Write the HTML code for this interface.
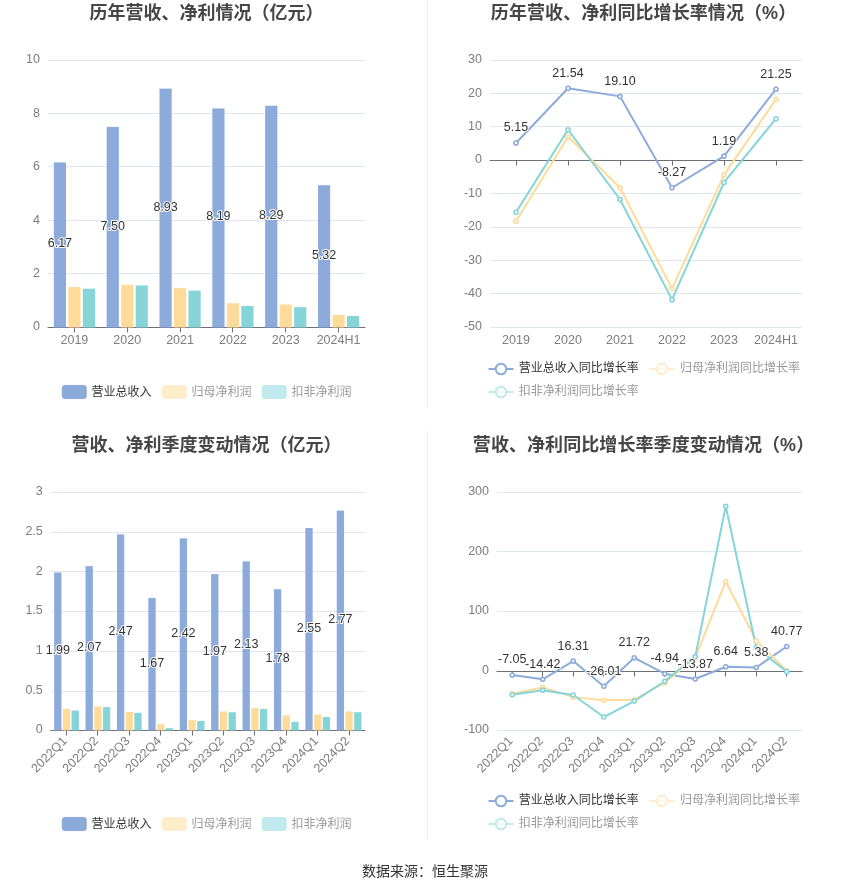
<!DOCTYPE html>
<html lang="zh"><head><meta charset="utf-8"><title>chart</title>
<style>
html,body{margin:0;padding:0;background:#fff}
svg{display:block;will-change:transform}
text{font-family:"Liberation Sans",sans-serif;font-size:12.5px}
.dl{fill:#333;stroke:#fff;stroke-width:2px;paint-order:stroke fill;stroke-linejoin:round}
text.ttl{font-family:"Liberation Sans","Noto Sans CJK SC",sans-serif;font-size:18px;font-weight:bold;fill:#464646}
text.lg{font-family:"Liberation Sans","Noto Sans CJK SC",sans-serif;font-size:12px}
text.src{font-family:"Liberation Sans","Noto Sans CJK SC",sans-serif;font-size:14px;fill:#333}
</style></head><body>
<svg width="850" height="891" viewBox="0 0 850 891" shape-rendering="auto">
<rect width="850" height="891" fill="#fff"/>
<text class="ttl" x="89.5" y="19.3" textLength="234">历年营收、净利情况（亿元）</text>
<path d="M48 60.5H365" stroke="#E0E6F1"/>
<path d="M48 113.5H365" stroke="#E0E6F1"/>
<path d="M48 166.5H365" stroke="#E0E6F1"/>
<path d="M48 220.5H365" stroke="#E0E6F1"/>
<path d="M48 273.5H365" stroke="#E0E6F1"/>
<text x="40" y="63.3" text-anchor="end" fill="#7c7c82">10</text>
<text x="40" y="116.7" text-anchor="end" fill="#7c7c82">8</text>
<text x="40" y="170.1" text-anchor="end" fill="#7c7c82">6</text>
<text x="40" y="223.5" text-anchor="end" fill="#7c7c82">4</text>
<text x="40" y="276.9" text-anchor="end" fill="#7c7c82">2</text>
<text x="40" y="330.3" text-anchor="end" fill="#7c7c82">0</text>
<path d="M47.5 327.5H365.5" stroke="#6E7079"/>
<rect x="53.82" y="162.45" width="12.2" height="165.05" fill="#8CABDB"/>
<rect x="68.32" y="287.11" width="12.2" height="40.39" fill="#FFDB9A"/>
<rect x="82.82" y="288.71" width="12.2" height="38.79" fill="#85D4D8"/>
<rect x="106.65" y="126.88" width="12.2" height="200.62" fill="#8CABDB"/>
<rect x="121.15" y="284.7" width="12.2" height="42.8" fill="#FFDB9A"/>
<rect x="135.65" y="285.5" width="12.2" height="42" fill="#85D4D8"/>
<rect x="159.48" y="88.62" width="12.2" height="238.88" fill="#8CABDB"/>
<rect x="173.98" y="287.91" width="12.2" height="39.59" fill="#FFDB9A"/>
<rect x="188.48" y="290.58" width="12.2" height="36.92" fill="#85D4D8"/>
<rect x="212.32" y="108.42" width="12.2" height="219.08" fill="#8CABDB"/>
<rect x="226.82" y="303.16" width="12.2" height="24.34" fill="#FFDB9A"/>
<rect x="241.32" y="305.97" width="12.2" height="21.53" fill="#85D4D8"/>
<rect x="265.15" y="105.74" width="12.2" height="221.76" fill="#8CABDB"/>
<rect x="279.65" y="304.5" width="12.2" height="23" fill="#FFDB9A"/>
<rect x="294.15" y="307.17" width="12.2" height="20.33" fill="#85D4D8"/>
<rect x="317.98" y="185.19" width="12.2" height="142.31" fill="#8CABDB"/>
<rect x="332.48" y="315.06" width="12.2" height="12.44" fill="#FFDB9A"/>
<rect x="346.98" y="316" width="12.2" height="11.5" fill="#85D4D8"/>
<path d="M74.5 327.5v5" stroke="#6E7079"/>
<text x="74.42" y="344" text-anchor="middle" fill="#7c7c82">2019</text>
<path d="M127.5 327.5v5" stroke="#6E7079"/>
<text x="127.25" y="344" text-anchor="middle" fill="#7c7c82">2020</text>
<path d="M180.5 327.5v5" stroke="#6E7079"/>
<text x="180.08" y="344" text-anchor="middle" fill="#7c7c82">2021</text>
<path d="M232.5 327.5v5" stroke="#6E7079"/>
<text x="232.92" y="344" text-anchor="middle" fill="#7c7c82">2022</text>
<path d="M285.5 327.5v5" stroke="#6E7079"/>
<text x="285.75" y="344" text-anchor="middle" fill="#7c7c82">2023</text>
<path d="M338.5 327.5v5" stroke="#6E7079"/>
<text x="338.58" y="344" text-anchor="middle" fill="#7c7c82">2024H1</text>
<text class="dl" x="59.92" y="247.48" text-anchor="middle">6.17</text>
<text class="dl" x="112.75" y="229.69" text-anchor="middle">7.50</text>
<text class="dl" x="165.58" y="210.56" text-anchor="middle">8.93</text>
<text class="dl" x="218.42" y="220.46" text-anchor="middle">8.19</text>
<text class="dl" x="271.25" y="219.12" text-anchor="middle">8.29</text>
<text class="dl" x="324.08" y="258.85" text-anchor="middle">5.32</text>
<rect x="61.8" y="385" width="25" height="14" rx="3.5" fill="#8CABDB"/>
<text class="lg" x="91.5" y="395.5" fill="#333" textLength="60">营业总收入</text>
<rect x="161.8" y="385" width="25" height="14" rx="3.5" fill="#FFEDCC"/>
<text class="lg" x="191.5" y="395.5" fill="#999" textLength="60">归母净利润</text>
<rect x="261.8" y="385" width="25" height="14" rx="3.5" fill="#C2E9EB"/>
<text class="lg" x="291.5" y="395.5" fill="#999" textLength="60">扣非净利润</text>
<text class="ttl" x="490.83" y="19.3" textLength="305.33">历年营收、净利同比增长率情况（%）</text>
<path d="M490 60.5H802" stroke="#E0E6F1"/>
<path d="M490 93.5H802" stroke="#E0E6F1"/>
<path d="M490 126.5H802" stroke="#E0E6F1"/>
<path d="M490 193.5H802" stroke="#E0E6F1"/>
<path d="M490 227.5H802" stroke="#E0E6F1"/>
<path d="M490 260.5H802" stroke="#E0E6F1"/>
<path d="M490 293.5H802" stroke="#E0E6F1"/>
<path d="M490 327.5H802" stroke="#E0E6F1"/>
<text x="482" y="63.3" text-anchor="end" fill="#7c7c82">30</text>
<text x="482" y="96.67" text-anchor="end" fill="#7c7c82">20</text>
<text x="482" y="130.05" text-anchor="end" fill="#7c7c82">10</text>
<text x="482" y="163.43" text-anchor="end" fill="#7c7c82">0</text>
<text x="482" y="196.8" text-anchor="end" fill="#7c7c82">-10</text>
<text x="482" y="230.18" text-anchor="end" fill="#7c7c82">-20</text>
<text x="482" y="263.55" text-anchor="end" fill="#7c7c82">-30</text>
<text x="482" y="296.93" text-anchor="end" fill="#7c7c82">-40</text>
<text x="482" y="330.3" text-anchor="end" fill="#7c7c82">-50</text>
<path d="M489.5 160.5H802.5" stroke="#6E7079"/>
<path d="M516.5 160.5v5" stroke="#6E7079"/>
<text x="516" y="344" text-anchor="middle" fill="#7c7c82">2019</text>
<path d="M568.5 160.5v5" stroke="#6E7079"/>
<text x="568" y="344" text-anchor="middle" fill="#7c7c82">2020</text>
<path d="M620.5 160.5v5" stroke="#6E7079"/>
<text x="620" y="344" text-anchor="middle" fill="#7c7c82">2021</text>
<path d="M672.5 160.5v5" stroke="#6E7079"/>
<text x="672" y="344" text-anchor="middle" fill="#7c7c82">2022</text>
<path d="M724.5 160.5v5" stroke="#6E7079"/>
<text x="724" y="344" text-anchor="middle" fill="#7c7c82">2023</text>
<path d="M776.5 160.5v5" stroke="#6E7079"/>
<text x="776" y="344" text-anchor="middle" fill="#7c7c82">2024H1</text>
<path d="M516 142.94L568 88.24L620 96.38L672 187.73L724 156.15L776 89.2" fill="none" stroke="#8CABDB" stroke-width="2" stroke-linejoin="bevel"/>
<path d="M516 221.2L568 136.76L620 187.83L672 288.62L724 174.81L776 99.38" fill="none" stroke="#FFDB9A" stroke-width="2" stroke-linejoin="bevel"/>
<path d="M516 212.19L568 129.75L620 199.51L672 299.63L724 182.49L776 118.74" fill="none" stroke="#85D4D8" stroke-width="2" stroke-linejoin="bevel"/>
<circle cx="516" cy="142.94" r="2" fill="#fff" stroke="#8CABDB" stroke-width="1.6"/>
<circle cx="568" cy="88.24" r="2" fill="#fff" stroke="#8CABDB" stroke-width="1.6"/>
<circle cx="620" cy="96.38" r="2" fill="#fff" stroke="#8CABDB" stroke-width="1.6"/>
<circle cx="672" cy="187.73" r="2" fill="#fff" stroke="#8CABDB" stroke-width="1.6"/>
<circle cx="724" cy="156.15" r="2" fill="#fff" stroke="#8CABDB" stroke-width="1.6"/>
<circle cx="776" cy="89.2" r="2" fill="#fff" stroke="#8CABDB" stroke-width="1.6"/>
<circle cx="516" cy="221.2" r="2" fill="#fff" stroke="#FFDB9A" stroke-width="1.6"/>
<circle cx="568" cy="136.76" r="2" fill="#fff" stroke="#FFDB9A" stroke-width="1.6"/>
<circle cx="620" cy="187.83" r="2" fill="#fff" stroke="#FFDB9A" stroke-width="1.6"/>
<circle cx="672" cy="288.62" r="2" fill="#fff" stroke="#FFDB9A" stroke-width="1.6"/>
<circle cx="724" cy="174.81" r="2" fill="#fff" stroke="#FFDB9A" stroke-width="1.6"/>
<circle cx="776" cy="99.38" r="2" fill="#fff" stroke="#FFDB9A" stroke-width="1.6"/>
<circle cx="516" cy="212.19" r="2" fill="#fff" stroke="#85D4D8" stroke-width="1.6"/>
<circle cx="568" cy="129.75" r="2" fill="#fff" stroke="#85D4D8" stroke-width="1.6"/>
<circle cx="620" cy="199.51" r="2" fill="#fff" stroke="#85D4D8" stroke-width="1.6"/>
<circle cx="672" cy="299.63" r="2" fill="#fff" stroke="#85D4D8" stroke-width="1.6"/>
<circle cx="724" cy="182.49" r="2" fill="#fff" stroke="#85D4D8" stroke-width="1.6"/>
<circle cx="776" cy="118.74" r="2" fill="#fff" stroke="#85D4D8" stroke-width="1.6"/>
<text class="dl" x="516" y="131.44" text-anchor="middle">5.15</text>
<text class="dl" x="568" y="76.74" text-anchor="middle">21.54</text>
<text class="dl" x="620" y="84.88" text-anchor="middle">19.10</text>
<text class="dl" x="672" y="176.23" text-anchor="middle">-8.27</text>
<text class="dl" x="724" y="144.65" text-anchor="middle">1.19</text>
<text class="dl" x="776" y="77.7" text-anchor="middle">21.25</text>
<path d="M488.5 369h25" stroke="#8CABDB" stroke-width="2"/>
<circle cx="501" cy="369" r="5.3" fill="#fff" stroke="#8CABDB" stroke-width="2"/>
<text class="lg" x="518.7" y="372.3" fill="#333" textLength="120">营业总收入同比增长率</text>
<path d="M649.7 369h25" stroke="#FFEDCC" stroke-width="2"/>
<circle cx="662.2" cy="369" r="5.3" fill="#fff" stroke="#FFEDCC" stroke-width="2"/>
<path d="M657.7 369h9" stroke="#FFEDCC" stroke-width="2" opacity="0.35"/>
<text class="lg" x="679.9" y="372.3" fill="#999" textLength="120">归母净利润同比增长率</text>
<path d="M488.5 392h25" stroke="#C2E9EB" stroke-width="2"/>
<circle cx="501" cy="392" r="5.3" fill="#fff" stroke="#C2E9EB" stroke-width="2"/>
<path d="M496.5 392h9" stroke="#C2E9EB" stroke-width="2" opacity="0.35"/>
<text class="lg" x="518.7" y="395.3" fill="#999" textLength="120">扣非净利润同比增长率</text>
<text class="ttl" x="71.5" y="451.4" textLength="270">营收、净利季度变动情况（亿元）</text>
<path d="M50.8 492.5H364.8" stroke="#E0E6F1"/>
<path d="M50.8 532.5H364.8" stroke="#E0E6F1"/>
<path d="M50.8 571.5H364.8" stroke="#E0E6F1"/>
<path d="M50.8 611.5H364.8" stroke="#E0E6F1"/>
<path d="M50.8 651.5H364.8" stroke="#E0E6F1"/>
<path d="M50.8 691.5H364.8" stroke="#E0E6F1"/>
<text x="42.8" y="495.1" text-anchor="end" fill="#7c7c82">3</text>
<text x="42.8" y="534.8" text-anchor="end" fill="#7c7c82">2.5</text>
<text x="42.8" y="574.5" text-anchor="end" fill="#7c7c82">2</text>
<text x="42.8" y="614.2" text-anchor="end" fill="#7c7c82">1.5</text>
<text x="42.8" y="653.9" text-anchor="end" fill="#7c7c82">1</text>
<text x="42.8" y="693.6" text-anchor="end" fill="#7c7c82">0.5</text>
<text x="42.8" y="733.3" text-anchor="end" fill="#7c7c82">0</text>
<path d="M50.3 730.5H365.3" stroke="#6E7079"/>
<rect x="54.15" y="572.49" width="7.3" height="158.01" fill="#8CABDB"/>
<rect x="62.85" y="708.82" width="7.3" height="21.68" fill="#FFDB9A"/>
<rect x="71.55" y="710.49" width="7.3" height="20.01" fill="#85D4D8"/>
<rect x="85.55" y="566.14" width="7.3" height="164.36" fill="#8CABDB"/>
<rect x="94.25" y="706.52" width="7.3" height="23.98" fill="#FFDB9A"/>
<rect x="102.95" y="707.08" width="7.3" height="23.42" fill="#85D4D8"/>
<rect x="116.95" y="534.38" width="7.3" height="196.12" fill="#8CABDB"/>
<rect x="125.65" y="712" width="7.3" height="18.5" fill="#FFDB9A"/>
<rect x="134.35" y="712.87" width="7.3" height="17.63" fill="#85D4D8"/>
<rect x="148.35" y="597.9" width="7.3" height="132.6" fill="#8CABDB"/>
<rect x="157.05" y="724.15" width="7.3" height="6.35" fill="#FFDB9A"/>
<rect x="165.75" y="728.12" width="7.3" height="2.38" fill="#85D4D8"/>
<rect x="179.75" y="538.35" width="7.3" height="192.15" fill="#8CABDB"/>
<rect x="188.45" y="720.18" width="7.3" height="10.32" fill="#FFDB9A"/>
<rect x="197.15" y="720.97" width="7.3" height="9.53" fill="#85D4D8"/>
<rect x="211.15" y="574.08" width="7.3" height="156.42" fill="#8CABDB"/>
<rect x="219.85" y="711.44" width="7.3" height="19.06" fill="#FFDB9A"/>
<rect x="228.55" y="712.24" width="7.3" height="18.26" fill="#85D4D8"/>
<rect x="242.55" y="561.38" width="7.3" height="169.12" fill="#8CABDB"/>
<rect x="251.25" y="708.19" width="7.3" height="22.31" fill="#FFDB9A"/>
<rect x="259.95" y="709.06" width="7.3" height="21.44" fill="#85D4D8"/>
<rect x="273.95" y="589.17" width="7.3" height="141.33" fill="#8CABDB"/>
<rect x="282.65" y="715.41" width="7.3" height="15.09" fill="#FFDB9A"/>
<rect x="291.35" y="721.77" width="7.3" height="8.73" fill="#85D4D8"/>
<rect x="305.35" y="528.03" width="7.3" height="202.47" fill="#8CABDB"/>
<rect x="314.05" y="714.62" width="7.3" height="15.88" fill="#FFDB9A"/>
<rect x="322.75" y="717" width="7.3" height="13.5" fill="#85D4D8"/>
<rect x="336.75" y="510.56" width="7.3" height="219.94" fill="#8CABDB"/>
<rect x="345.45" y="711.44" width="7.3" height="19.06" fill="#FFDB9A"/>
<rect x="354.15" y="712.24" width="7.3" height="18.26" fill="#85D4D8"/>
<path d="M66.5 730.5v5" stroke="#6E7079"/>
<text transform="translate(67.6 741.7) rotate(-45)" font-size="12.5" text-anchor="end" fill="#7c7c82">2022Q1</text>
<path d="M97.5 730.5v5" stroke="#6E7079"/>
<text transform="translate(99 741.7) rotate(-45)" font-size="12.5" text-anchor="end" fill="#7c7c82">2022Q2</text>
<path d="M129.5 730.5v5" stroke="#6E7079"/>
<text transform="translate(130.4 741.7) rotate(-45)" font-size="12.5" text-anchor="end" fill="#7c7c82">2022Q3</text>
<path d="M160.5 730.5v5" stroke="#6E7079"/>
<text transform="translate(161.8 741.7) rotate(-45)" font-size="12.5" text-anchor="end" fill="#7c7c82">2022Q4</text>
<path d="M192.5 730.5v5" stroke="#6E7079"/>
<text transform="translate(193.2 741.7) rotate(-45)" font-size="12.5" text-anchor="end" fill="#7c7c82">2023Q1</text>
<path d="M223.5 730.5v5" stroke="#6E7079"/>
<text transform="translate(224.6 741.7) rotate(-45)" font-size="12.5" text-anchor="end" fill="#7c7c82">2023Q2</text>
<path d="M254.5 730.5v5" stroke="#6E7079"/>
<text transform="translate(256 741.7) rotate(-45)" font-size="12.5" text-anchor="end" fill="#7c7c82">2023Q3</text>
<path d="M286.5 730.5v5" stroke="#6E7079"/>
<text transform="translate(287.4 741.7) rotate(-45)" font-size="12.5" text-anchor="end" fill="#7c7c82">2023Q4</text>
<path d="M317.5 730.5v5" stroke="#6E7079"/>
<text transform="translate(318.8 741.7) rotate(-45)" font-size="12.5" text-anchor="end" fill="#7c7c82">2024Q1</text>
<path d="M349.5 730.5v5" stroke="#6E7079"/>
<text transform="translate(350.2 741.7) rotate(-45)" font-size="12.5" text-anchor="end" fill="#7c7c82">2024Q2</text>
<text class="dl" x="57.8" y="654" text-anchor="middle">1.99</text>
<text class="dl" x="89.2" y="650.82" text-anchor="middle">2.07</text>
<text class="dl" x="120.6" y="634.94" text-anchor="middle">2.47</text>
<text class="dl" x="152" y="666.7" text-anchor="middle">1.67</text>
<text class="dl" x="183.4" y="636.93" text-anchor="middle">2.42</text>
<text class="dl" x="214.8" y="654.79" text-anchor="middle">1.97</text>
<text class="dl" x="246.2" y="648.44" text-anchor="middle">2.13</text>
<text class="dl" x="277.6" y="662.33" text-anchor="middle">1.78</text>
<text class="dl" x="309" y="631.76" text-anchor="middle">2.55</text>
<text class="dl" x="340.4" y="623.03" text-anchor="middle">2.77</text>
<rect x="61.8" y="817" width="25" height="14" rx="3.5" fill="#8CABDB"/>
<text class="lg" x="91.5" y="827.5" fill="#333" textLength="60">营业总收入</text>
<rect x="161.8" y="817" width="25" height="14" rx="3.5" fill="#FFEDCC"/>
<text class="lg" x="191.5" y="827.5" fill="#999" textLength="60">归母净利润</text>
<rect x="261.8" y="817" width="25" height="14" rx="3.5" fill="#C2E9EB"/>
<text class="lg" x="291.5" y="827.5" fill="#999" textLength="60">扣非净利润</text>
<text class="ttl" x="472.83" y="451.4" textLength="341.33">营收、净利同比增长率季度变动情况（%）</text>
<path d="M497 492.5H802" stroke="#E0E6F1"/>
<path d="M497 551.5H802" stroke="#E0E6F1"/>
<path d="M497 611.5H802" stroke="#E0E6F1"/>
<path d="M497 730.5H802" stroke="#E0E6F1"/>
<text x="489" y="495.2" text-anchor="end" fill="#7c7c82">300</text>
<text x="489" y="554.75" text-anchor="end" fill="#7c7c82">200</text>
<text x="489" y="614.3" text-anchor="end" fill="#7c7c82">100</text>
<text x="489" y="673.85" text-anchor="end" fill="#7c7c82">0</text>
<text x="489" y="733.4" text-anchor="end" fill="#7c7c82">-100</text>
<path d="M496.5 671.5H802.5" stroke="#6E7079"/>
<path d="M512.5 671.5v5" stroke="#6E7079"/>
<text transform="translate(513.35 741.7) rotate(-45)" font-size="12.5" text-anchor="end" fill="#7c7c82">2022Q1</text>
<path d="M542.5 671.5v5" stroke="#6E7079"/>
<text transform="translate(543.85 741.7) rotate(-45)" font-size="12.5" text-anchor="end" fill="#7c7c82">2022Q2</text>
<path d="M573.5 671.5v5" stroke="#6E7079"/>
<text transform="translate(574.35 741.7) rotate(-45)" font-size="12.5" text-anchor="end" fill="#7c7c82">2022Q3</text>
<path d="M603.5 671.5v5" stroke="#6E7079"/>
<text transform="translate(604.85 741.7) rotate(-45)" font-size="12.5" text-anchor="end" fill="#7c7c82">2022Q4</text>
<path d="M634.5 671.5v5" stroke="#6E7079"/>
<text transform="translate(635.35 741.7) rotate(-45)" font-size="12.5" text-anchor="end" fill="#7c7c82">2023Q1</text>
<path d="M664.5 671.5v5" stroke="#6E7079"/>
<text transform="translate(665.85 741.7) rotate(-45)" font-size="12.5" text-anchor="end" fill="#7c7c82">2023Q2</text>
<path d="M695.5 671.5v5" stroke="#6E7079"/>
<text transform="translate(696.35 741.7) rotate(-45)" font-size="12.5" text-anchor="end" fill="#7c7c82">2023Q3</text>
<path d="M725.5 671.5v5" stroke="#6E7079"/>
<text transform="translate(726.85 741.7) rotate(-45)" font-size="12.5" text-anchor="end" fill="#7c7c82">2023Q4</text>
<path d="M756.5 671.5v5" stroke="#6E7079"/>
<text transform="translate(757.35 741.7) rotate(-45)" font-size="12.5" text-anchor="end" fill="#7c7c82">2024Q1</text>
<path d="M786.5 671.5v5" stroke="#6E7079"/>
<text transform="translate(787.85 741.7) rotate(-45)" font-size="12.5" text-anchor="end" fill="#7c7c82">2024Q2</text>
<path d="M512.25 674.95L542.75 679.34L573.25 661.04L603.75 686.24L634.25 657.82L664.75 673.69L695.25 679.01L725.75 666.8L756.25 667.55L786.75 646.47" fill="none" stroke="#8CABDB" stroke-width="2" stroke-linejoin="bevel"/>
<path d="M512.25 693.8L542.75 687.42L573.25 697.13L603.75 700.35L634.25 699.69L664.75 682.66L695.25 657.65L725.75 581.48L756.25 640.8L786.75 670.69" fill="none" stroke="#FFDB9A" stroke-width="2" stroke-linejoin="bevel"/>
<path d="M512.25 694.81L542.75 690.16L573.25 695.05L603.75 717.02L634.25 701.12L664.75 681.23L695.25 656.58L725.75 506.21L756.25 647.7L786.75 671.64" fill="none" stroke="#85D4D8" stroke-width="2" stroke-linejoin="bevel"/>
<circle cx="512.25" cy="674.95" r="2" fill="#fff" stroke="#8CABDB" stroke-width="1.6"/>
<circle cx="542.75" cy="679.34" r="2" fill="#fff" stroke="#8CABDB" stroke-width="1.6"/>
<circle cx="573.25" cy="661.04" r="2" fill="#fff" stroke="#8CABDB" stroke-width="1.6"/>
<circle cx="603.75" cy="686.24" r="2" fill="#fff" stroke="#8CABDB" stroke-width="1.6"/>
<circle cx="634.25" cy="657.82" r="2" fill="#fff" stroke="#8CABDB" stroke-width="1.6"/>
<circle cx="664.75" cy="673.69" r="2" fill="#fff" stroke="#8CABDB" stroke-width="1.6"/>
<circle cx="695.25" cy="679.01" r="2" fill="#fff" stroke="#8CABDB" stroke-width="1.6"/>
<circle cx="725.75" cy="666.8" r="2" fill="#fff" stroke="#8CABDB" stroke-width="1.6"/>
<circle cx="756.25" cy="667.55" r="2" fill="#fff" stroke="#8CABDB" stroke-width="1.6"/>
<circle cx="786.75" cy="646.47" r="2" fill="#fff" stroke="#8CABDB" stroke-width="1.6"/>
<circle cx="512.25" cy="693.8" r="2" fill="#fff" stroke="#FFDB9A" stroke-width="1.6"/>
<circle cx="542.75" cy="687.42" r="2" fill="#fff" stroke="#FFDB9A" stroke-width="1.6"/>
<circle cx="573.25" cy="697.13" r="2" fill="#fff" stroke="#FFDB9A" stroke-width="1.6"/>
<circle cx="603.75" cy="700.35" r="2" fill="#fff" stroke="#FFDB9A" stroke-width="1.6"/>
<circle cx="634.25" cy="699.69" r="2" fill="#fff" stroke="#FFDB9A" stroke-width="1.6"/>
<circle cx="664.75" cy="682.66" r="2" fill="#fff" stroke="#FFDB9A" stroke-width="1.6"/>
<circle cx="695.25" cy="657.65" r="2" fill="#fff" stroke="#FFDB9A" stroke-width="1.6"/>
<circle cx="725.75" cy="581.48" r="2" fill="#fff" stroke="#FFDB9A" stroke-width="1.6"/>
<circle cx="756.25" cy="640.8" r="2" fill="#fff" stroke="#FFDB9A" stroke-width="1.6"/>
<circle cx="786.75" cy="670.69" r="2" fill="#fff" stroke="#FFDB9A" stroke-width="1.6"/>
<circle cx="512.25" cy="694.81" r="2" fill="#fff" stroke="#85D4D8" stroke-width="1.6"/>
<circle cx="542.75" cy="690.16" r="2" fill="#fff" stroke="#85D4D8" stroke-width="1.6"/>
<circle cx="573.25" cy="695.05" r="2" fill="#fff" stroke="#85D4D8" stroke-width="1.6"/>
<circle cx="603.75" cy="717.02" r="2" fill="#fff" stroke="#85D4D8" stroke-width="1.6"/>
<circle cx="634.25" cy="701.12" r="2" fill="#fff" stroke="#85D4D8" stroke-width="1.6"/>
<circle cx="664.75" cy="681.23" r="2" fill="#fff" stroke="#85D4D8" stroke-width="1.6"/>
<circle cx="695.25" cy="656.58" r="2" fill="#fff" stroke="#85D4D8" stroke-width="1.6"/>
<circle cx="725.75" cy="506.21" r="2" fill="#fff" stroke="#85D4D8" stroke-width="1.6"/>
<circle cx="756.25" cy="647.7" r="2" fill="#fff" stroke="#85D4D8" stroke-width="1.6"/>
<circle cx="786.75" cy="671.64" r="2" fill="#fff" stroke="#85D4D8" stroke-width="1.6"/>
<text class="dl" x="512.25" y="663.45" text-anchor="middle">-7.05</text>
<text class="dl" x="542.75" y="667.84" text-anchor="middle">-14.42</text>
<text class="dl" x="573.25" y="649.54" text-anchor="middle">16.31</text>
<text class="dl" x="603.75" y="674.74" text-anchor="middle">-26.01</text>
<text class="dl" x="634.25" y="646.32" text-anchor="middle">21.72</text>
<text class="dl" x="664.75" y="662.19" text-anchor="middle">-4.94</text>
<text class="dl" x="695.25" y="667.51" text-anchor="middle">-13.87</text>
<text class="dl" x="725.75" y="655.3" text-anchor="middle">6.64</text>
<text class="dl" x="756.25" y="656.05" text-anchor="middle">5.38</text>
<text class="dl" x="786.75" y="634.97" text-anchor="middle">40.77</text>
<path d="M488.5 801h25" stroke="#8CABDB" stroke-width="2"/>
<circle cx="501" cy="801" r="5.3" fill="#fff" stroke="#8CABDB" stroke-width="2"/>
<text class="lg" x="518.7" y="804.3" fill="#333" textLength="120">营业总收入同比增长率</text>
<path d="M649.7 801h25" stroke="#FFEDCC" stroke-width="2"/>
<circle cx="662.2" cy="801" r="5.3" fill="#fff" stroke="#FFEDCC" stroke-width="2"/>
<path d="M657.7 801h9" stroke="#FFEDCC" stroke-width="2" opacity="0.35"/>
<text class="lg" x="679.9" y="804.3" fill="#999" textLength="120">归母净利润同比增长率</text>
<path d="M488.5 824h25" stroke="#C2E9EB" stroke-width="2"/>
<circle cx="501" cy="824" r="5.3" fill="#fff" stroke="#C2E9EB" stroke-width="2"/>
<path d="M496.5 824h9" stroke="#C2E9EB" stroke-width="2" opacity="0.35"/>
<text class="lg" x="518.7" y="827.3" fill="#999" textLength="120">扣非净利润同比增长率</text>
<path d="M427.5 0V407M427.5 431V838.5" stroke="#eee"/>
<text class="src" x="362" y="876" textLength="126">数据来源：恒生聚源</text>
</svg>
</body></html>
